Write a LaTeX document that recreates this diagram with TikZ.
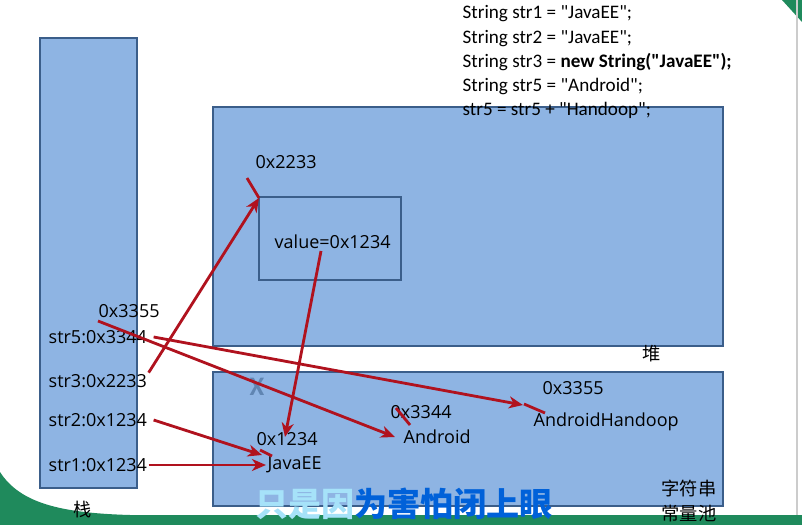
\documentclass[tikz,border=0pt]{standalone}
\usepackage{fontspec}
\setmainfont{Carlito}
\newfontfamily\lblfont{Open Sans}
\newfontfamily\cjk{Noto Sans CJK SC}
\usetikzlibrary{positioning,arrows.meta}
\definecolor{boxblue}{HTML}{8EB4E3}
\definecolor{boxline}{HTML}{3B5E8A}
\definecolor{refred}{HTML}{B0121E}
\definecolor{bandgreen}{HTML}{1F8A5C}
\newcommand\qt{\textquotedbl}
\tikzset{x=0.025cm, y=-0.025cm, % one unit is one pixel of the reference
  area/.style={ % memory areas
    draw=boxline,
    fill=boxblue,
    line width=1pt},
  lbl/.style={
    anchor=west,
    inner sep=1pt,
    font=\lblfont\fontsize{12.8}{15}\selectfont},
  code/.style={
    anchor=west,
    inner sep=1pt,
    font=\fontsize{13.6}{15}\selectfont},
  ref/.style={ % pointer arrows
    draw=refred,
    ->,>={Stealth[length=10pt,width=8.5pt,inset=3pt]},
    line width=2pt},
  tick/.style={
    draw=refred,
    line width=2pt}}

\begin{document}
\begin{tikzpicture}
  \useasboundingbox (0,0) rectangle (802,525);
  % page decoration
  \fill[bandgreen] (0,472) .. controls (20,503) and (60,513) .. (130,515) -- (802,515) -- (802,525) -- (0,525) -- cycle;
  \fill[bandgreen] (782,0) -- (802,0) -- (802,22) -- cycle;
  \draw[gray!40, line width=2pt] (797,0) -- (797,515);

  % memory areas
  \draw[area] (40,38) rectangle (137,488);
  \draw[area] (213,107) rectangle (723,346);
  \draw[area] (259,197) rectangle (401,280);
  \draw[area] (213,372) rectangle (723,506);

  % code
  \node[code] (c1) at (461,14) {String str1 = \qt JavaEE\qt;};
  \node[code, below=17.2pt of c1.west, anchor=west] (c2) {String str2 = \qt JavaEE\qt;};
  \node[code, below=17.2pt of c2.west, anchor=west] (c3) {String str3 = \textbf{new String(\qt JavaEE\qt);}};
  \node[code, below=17.2pt of c3.west, anchor=west] (c4) {String str5 = \qt Android\qt;};
  \node[code, below=17.2pt of c4.west, anchor=west] (c5) {str5 = str5 + \qt Handoop\qt;};

  % stack
  \node[lbl] (old) at (97,311) {0x3355};
  \node[lbl] (str5) at (47,337) {str5:0x3344};
  \node[lbl] (str3) at (47,381) {str3:0x2233};
  \node[lbl] (str2) at (47,420) {str2:0x1234};
  \node[lbl] (str1) at (47,465) {str1:0x1234};
  \node[lbl, anchor=center, font=\cjk\fontsize{13}{15}\selectfont] (stack) at (83,510) {栈};

  % heap
  \node[lbl] (objaddr) at (254,162) {0x2233};
  \node[lbl] (value) at (273,242) {value=0x1234};
  \node[lbl, anchor=center, font=\cjk\fontsize{13}{15}\selectfont] (heap) at (652,354) {堆};

  % string pool
  \node[lbl] (addr1) at (255,439) {0x1234};
  \node[lbl] (javaee) at (266,465) {JavaEE};
  \node[lbl] (addr2) at (389,412) {0x3344};
  \node[lbl] (android) at (402,437) {Android};
  \node[lbl] (addr3) at (541,388) {0x3355};
  \node[lbl] (andhad) at (532,422) {AndroidHandoop};
  \node[lbl, anchor=center, align=center, font=\cjk\fontsize{13}{18}\selectfont] (pool) at (689,501) {字符串\\常量池};
  \node[text=boxline!55!boxblue, font=\bfseries\fontsize{19}{19}\selectfont] (cross) at (257,387) {X};

  % subtitle
  \node[font=\cjk\bfseries\fontsize{23.5}{24}\selectfont] (sub) at (404,504)
    {\textcolor{cyan!35}{只是因}\textcolor{blue!55!cyan!85!black}{为害怕闭上眼}};

  % free ends of the pointers
  \coordinate (objtop) at (259,198);
  \coordinate (valstart) at (321,251);
  \coordinate (oldstart) at (98,321);
  \coordinate (str2end) at (262,455);
  \coordinate (str5end) at (523,405);
  \coordinate (oldend) at (395,437);
  \coordinate (valend) at (285,437);

  % pointers
  \draw[ref] (str1.east) -- (javaee.west);
  \draw[ref] (str2.east) ++(5,0) -- (str2end);
  \draw[ref] (str3.north east) -- (objtop);
  \draw[ref] (valstart) -- (valend);
  \draw[ref] (str5.east) ++(5,0) -- (str5end);
  \draw[ref] (oldstart) -- (oldend);

  % address marks
  \draw[tick] (247,178) -- (objtop);
  \draw[tick] (260,450) -- (272,456);
  \draw[tick] (396,408) -- (410,425);
  \draw[tick] (524,404) -- (545,413);
\end{tikzpicture}
\end{document}
